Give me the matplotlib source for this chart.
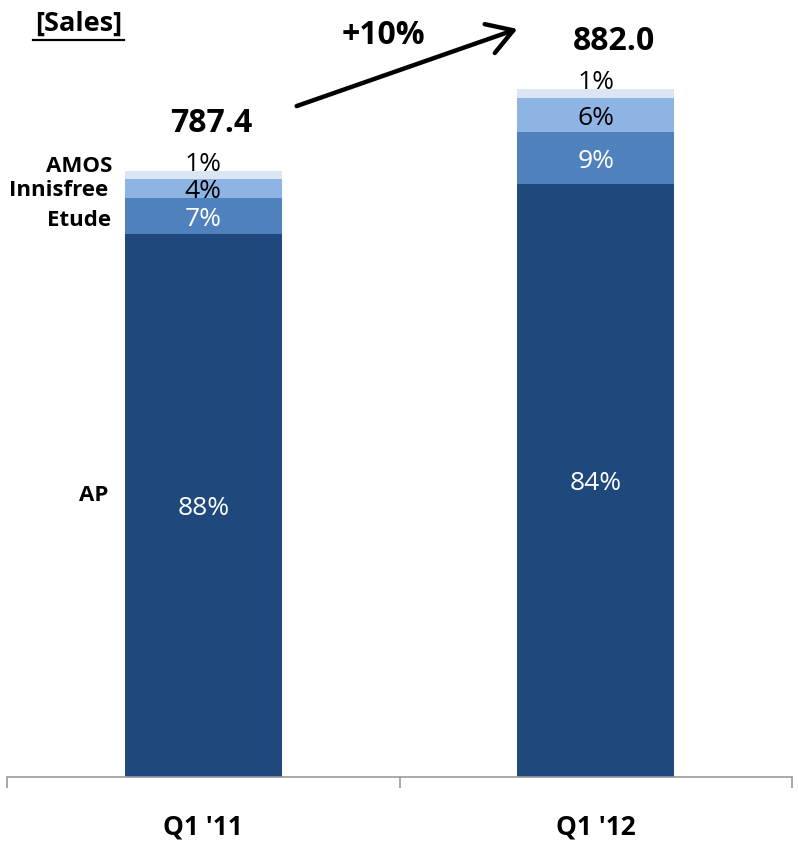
import matplotlib
matplotlib.use("Agg")
import matplotlib.pyplot as plt
from matplotlib.lines import Line2D

plt.rcParams['font.family'] = ['Open Sans', 'DejaVu Sans']

# ---- data ----
categories = ["Q1 '11", "Q1 '12"]
totals = [787.4, 882.0]
segments = ["AP", "Etude", "Innisfree", "AMOS"]
ap = [701, 766]
etude = [46.5, 66]
innisfree = [24.5, 45]
amos = [9.7, 11.6]
pct_labels = {
    "AP": ["88%", "84%"],
    "Etude": ["7%", "9%"],
    "Innisfree": ["4%", "6%"],
    "AMOS": ["1%", "1%"],
}
growth_label = "+10%"
title = "[Sales]"

colors = {"AP": "#1F497D", "Etude": "#4F81BD", "Innisfree": "#8EB4E3", "AMOS": "#DCE6F2"}
text_colors = {"AP": "white", "Etude": "white", "Innisfree": "black", "AMOS": "black"}

W, H = 798, 850
fig = plt.figure(figsize=(W / 100, H / 100), dpi=100)

def px(x, y):
    return (x / W, 1 - y / H)

ax = fig.add_axes([7 / W, (H - 777) / H, 785 / W, 777 / H])
ax.set_xlim(-0.5, 1.5)
ax.set_ylim(0, 1003)

x = list(range(len(categories)))
bottoms = [0.0] * len(categories)
series = {"AP": ap, "Etude": etude, "Innisfree": innisfree, "AMOS": amos}
for name in segments:
    vals = series[name]
    ax.bar(x, vals, width=0.4, bottom=bottoms, color=colors[name], edgecolor='none')
    for i, v in enumerate(vals):
        yc = bottoms[i] + v / 2
        dy = 8 if name == "AMOS" else -2.5
        ax.annotate(pct_labels[name][i], (x[i], yc), xytext=(0, dy), textcoords='offset points',
                    ha='center', va='center', fontsize=19, color=text_colors[name])
    bottoms = [b + v for b, v in zip(bottoms, vals)]

for s in ['left', 'right', 'top']:
    ax.spines[s].set_visible(False)
ax.spines['bottom'].set_color('#9A9A9A')
ax.spines['bottom'].set_linewidth(1.2)
ax.set_yticks([])
ax.set_xticks(x)
ax.set_xticklabels(categories, fontsize=19, fontweight='bold')
ax.tick_params(axis='x', which='major', length=0, pad=26)
ax.set_xticks([-0.5, 0.5, 1.5], minor=True)
ax.tick_params(axis='x', which='minor', length=8, color='#9A9A9A', width=1.2, direction='out')

# totals
fig.text(*px(211, 123), f"{totals[0]:.1f}", ha='center', va='center', fontsize=23, fontweight='bold')
fig.text(*px(614, 41), f"{totals[1]:.1f}", ha='center', va='center', fontsize=23, fontweight='bold')
fig.text(*px(383, 35), growth_label, ha='center', va='center', fontsize=23, fontweight='bold')

# arrow
fig.patches.append(matplotlib.patches.FancyArrowPatch(
    px(294, 107), px(520, 28), transform=fig.transFigure,
    arrowstyle='->,head_length=9,head_width=5.5', lw=3.2, color='black', mutation_scale=2))

# segment names
fig.text(*px(112, 166), "AMOS", ha='right', va='center', fontsize=16, fontweight='bold')
fig.text(*px(108, 190), "Innisfree", ha='right', va='center', fontsize=16, fontweight='bold')
fig.text(*px(111, 221), "Etude", ha='right', va='center', fontsize=16, fontweight='bold')
fig.text(*px(108, 495), "AP", ha='right', va='center', fontsize=16, fontweight='bold')

# title with underline
fig.text(*px(79, 24), title, ha='center', va='center', fontsize=19.5, fontweight='bold')
fig.lines.append(Line2D([33 / W, 124 / W], [1 - 40 / H, 1 - 40 / H], transform=fig.transFigure,
                        color='black', lw=1.6))

fig.savefig("out.png", dpi=100)
